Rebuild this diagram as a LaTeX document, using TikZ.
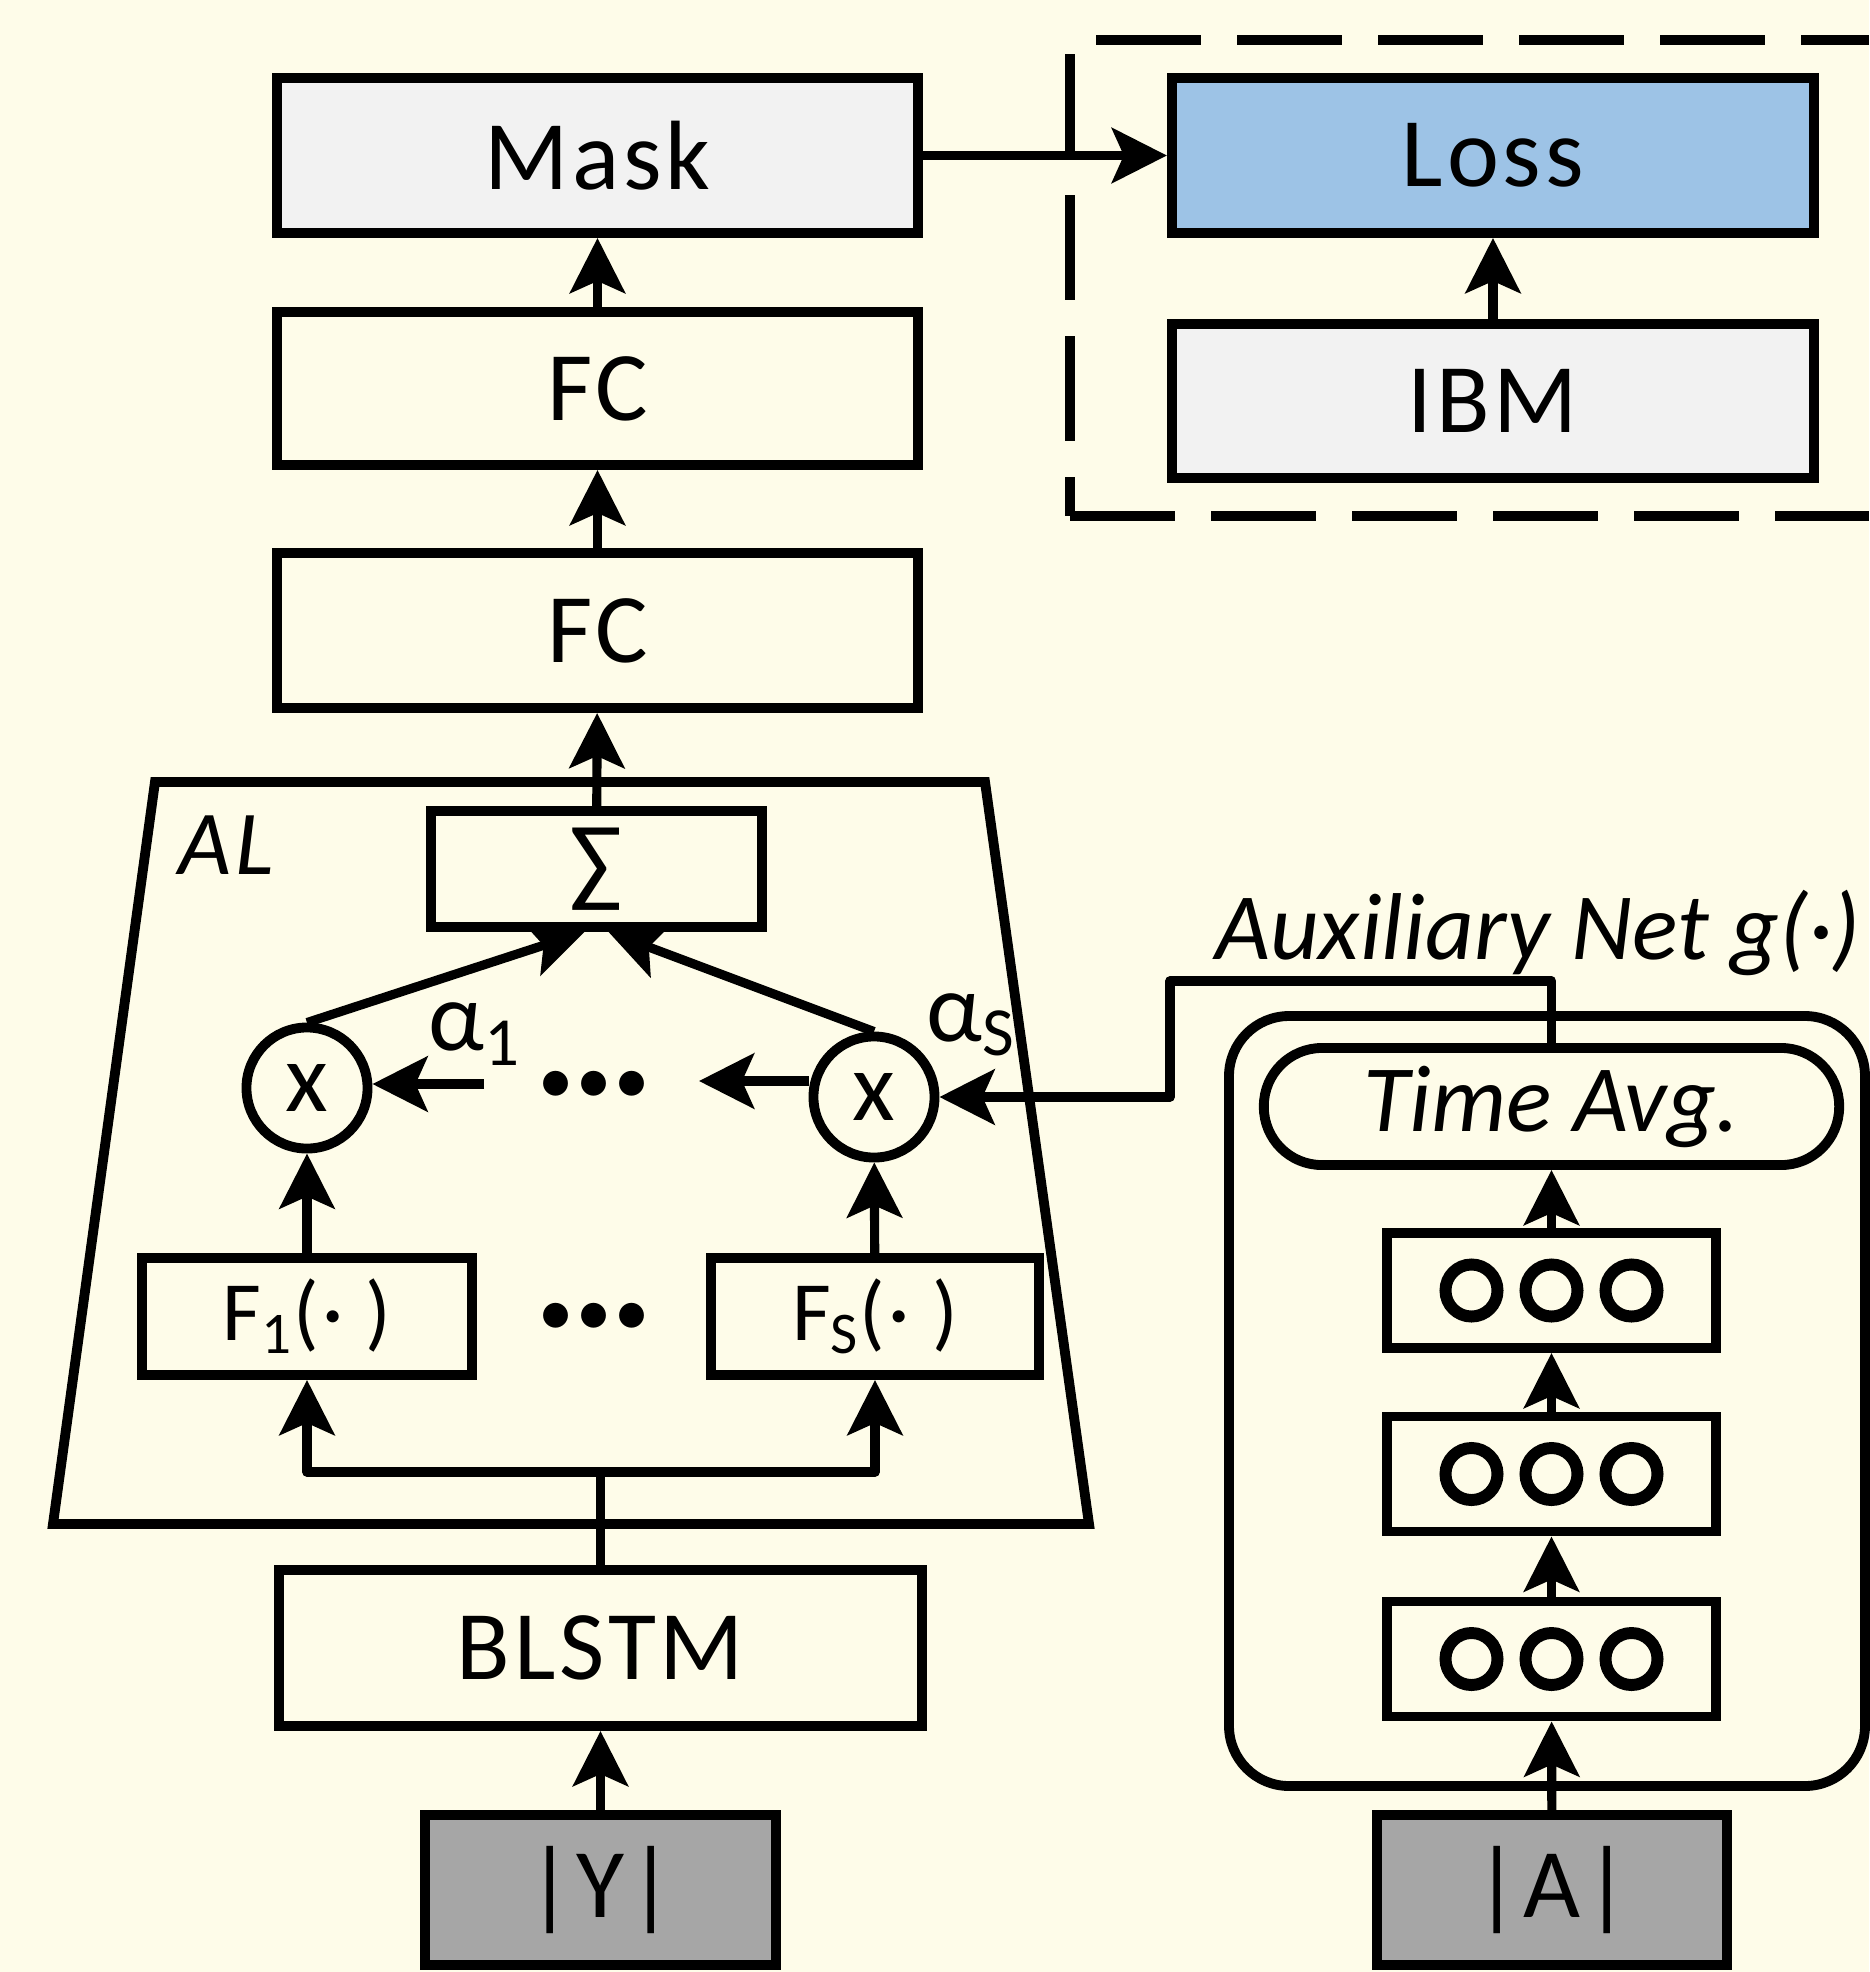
\documentclass[tikz,border=0pt]{standalone}
\usepackage{fontspec}
\setmainfont{Carlito}[LetterSpace=4]
\newfontfamily\lblfont{Carlito}
\usetikzlibrary{arrows.meta}
\definecolor{bgcream}{HTML}{FEFCE9}
\definecolor{lightbox}{HTML}{F2F2F2}
\definecolor{lossblue}{HTML}{9DC3E6}
\definecolor{inputgray}{HTML}{A6A6A6}
\tikzset{
  blk/.style={draw,line width=2.8pt,fill=bgcream,minimum width=6.41cm,minimum height=1.55cm,inner sep=0pt,font=\fontsize{28}{32}\selectfont},
  sml/.style={blk,minimum width=3.3cm,minimum height=1.17cm,font=\fontsize{24}{28}\selectfont},
  mult/.style={draw,circle,line width=2.8pt,fill=bgcream,minimum size=1.21cm,inner sep=0pt,font=\fontsize{28}{32}\selectfont},
  layer/.style={draw,line width=2.8pt,fill=bgcream,minimum width=3.29cm,minimum height=1.15cm,inner sep=0pt},
  arr/.style={line width=2.6pt,-{Stealth[length=0.55cm,width=0.55cm,inset=0.12cm]}},
  lbl/.style={font=\lblfont\fontsize{27}{30}\selectfont\itshape},
  dashln/.style={line width=2.8pt,dash pattern=on 1.05cm off 0.36cm},
}
\begin{document}
\begin{tikzpicture}[x=0.01cm,y=-0.01cm]
\useasboundingbox (0,0) rectangle (1869,1972);
\fill[bgcream] (0,0) rectangle (1869,1972);

% loss part
\draw[dashln] (1070,54) -- (1070,516);
\draw[dashln] (1070,516) -- (1869,516);
\draw[dashln] (1096,40) -- (1869,40);
\node[blk,fill=lossblue,minimum width=6.42cm] (loss) at (1493,155.5) {Loss};
\node[blk,fill=lightbox,minimum width=6.42cm,minimum height=1.54cm] (ibm) at (1493,401) {IBM};

% main branch
\node[blk,fill=lightbox] (mask) at (597.5,155.5) {Mask};
\node[blk,minimum height=1.53cm] (fcb) at (597.5,388.5) {FC};
\node[blk] (fca) at (597.5,630.5) {FC};

\draw[line width=2.8pt,fill=bgcream] (155,782) -- (985,782) -- (1089,1524) -- (53,1524) -- cycle;
\node[font=\fontsize{26}{30}\selectfont\itshape] (al) at (226,845) {AL};
\node[blk,minimum width=3.31cm,minimum height=1.16cm] (sum) at (596.5,869) {∑};
\node[mult] (mulA) at (307,1088) {x};
\node[mult] (mulS) at (874,1097) {x};
\node[font=\fontsize{28}{32}\selectfont] (alpha1) at (475,1034) {α\textsubscript{1}};
\node[font=\fontsize{28}{32}\selectfont] (alphaS) at (971,1025) {α\textsubscript{S}};
\node[font=\fontsize{20}{20}\selectfont] (dotsA) at (594,1087) {•••};
\node[font=\fontsize{20}{20}\selectfont] (dotsB) at (594,1319) {•••};
\node[sml] (f1) at (307,1316.5) {F\textsubscript{1}(· )};
\node[sml,minimum width=3.28cm] (fs) at (875,1316.5) {F\textsubscript{S}(· )};
\node[blk,minimum width=6.43cm,minimum height=1.56cm] (blstm) at (600.5,1648) {BLSTM};
\node[blk,fill=inputgray,minimum width=3.51cm,minimum height=1.5cm] (ymag) at (600.5,1890) {|Y|};

% auxiliary net
\draw[line width=2.8pt,fill=bgcream,rounded corners=0.6cm] (1229,1016) rectangle (1865,1786);
\node[lbl] (auxlbl) at (1538,933) {Auxiliary Net g(·)};
\node[blk,lbl,rounded corners=0.58cm,minimum width=5.75cm,minimum height=1.17cm] (tavg) at (1551.5,1106.5) {Time Avg.};
\node[layer] (lay3) at (1551.5,1290.5) {};
\node[layer] (lay2) at (1551.5,1474) {};
\node[layer] (lay1) at (1551.5,1659) {};
\foreach \n in {1,2,3}
  \foreach \dx in {-80,0,80}
    \draw[line width=3.4pt] ([xshift=\dx*0.01cm]lay\n.center) circle (0.26cm);
\node[blk,fill=inputgray,minimum width=3.5cm,minimum height=1.5cm] (amag) at (1552,1890) {|A|};

% connectors
\draw[arr] (ymag) -- (blstm);
\coordinate (split) at (600.5,1472);
\draw[line width=2.6pt] (blstm.north) -- (split);
\draw[arr,line join=round] (split) -| (f1.south);
\draw[arr,line join=round] (split) -| (fs.south);
\draw[arr] (f1) -- (mulA);
\draw[arr] (fs) -- (mulS);
\draw[arr] (mulA.north) -- ([xshift=-0.12cm]sum.south);
\draw[arr] (mulS.north) -- ([xshift=0.12cm]sum.south);
\coordinate (a1) at (484,1084);
\coordinate (aS) at (699,1081);
\draw[arr] (a1) -- (mulA.east |- a1);
\draw[arr] (mulS.west |- aS) -- (aS);
\draw[arr] (sum) -- (fca);
\draw[arr] (fca) -- (fcb);
\draw[arr] (fcb) -- (mask);
\draw[arr] (mask) -- (loss);
\draw[arr] (ibm) -- (loss);
\draw[arr] (amag) -- (lay1);
\draw[arr] (lay1) -- (lay2);
\draw[arr] (lay2) -- (lay3);
\draw[arr] (lay3) -- (tavg);
\coordinate (bend) at (1170,981);
\draw[arr,line join=round] (tavg.north) |- (bend) |- (mulS.east);
\end{tikzpicture}
\end{document}
